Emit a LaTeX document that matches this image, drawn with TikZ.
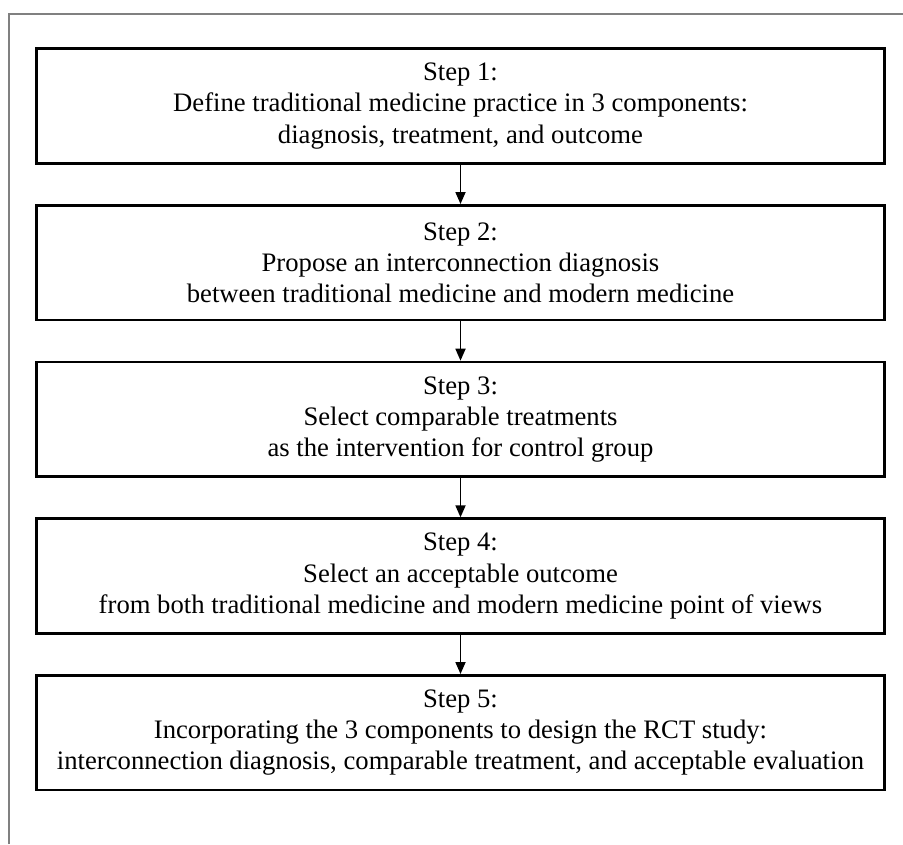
\documentclass[tikz,border=0pt]{standalone}
\usepackage{fontspec}
\setmainfont{Liberation Serif}
\usetikzlibrary{positioning, arrows.meta}
\tikzset{
	flowchart/.cd,
	box/.style = {
		draw,
		line width = 2pt,
		minimum width = 636pt,
		minimum height = 86pt,
		inner sep = 0pt,
		align = center,
		font = \fontsize{20pt}{23.3pt}\selectfont
	},
	link/.style = {
		line width = 1.3pt,
		-{Triangle[length = 9pt, width = 7.5pt]}
	},
}

\begin{document}
\begin{tikzpicture}[
		x = 0.75pt, y = -0.75pt,
		frame/.style = {
			draw = gray,
			line width = 1.5pt
		}]
		\useasboundingbox (0, 0) rectangle (903, 844);
		\draw[frame] (9, 844) -- (9, 14) -- (903, 14);
		\node[flowchart/box] (step1) at (460.5, 106) {Step 1:\\Define traditional medicine practice in 3 components:\\diagnosis, treatment, and outcome};
		\node[flowchart/box, below = 29.5pt of step1] (step2) {Step 2:\\Propose an interconnection diagnosis\\between traditional medicine and modern medicine};
		\node[flowchart/box, below = 29.5pt of step2] (step3) {Step 3:\\Select comparable treatments\\as the intervention for control group};
		\node[flowchart/box, below = 29.5pt of step3] (step4) {Step 4:\\Select an acceptable outcome\\from both traditional medicine and modern medicine point of views};
		\node[flowchart/box, below = 29.5pt of step4] (step5) {Step 5:\\Incorporating the 3 components to design the RCT study:\\interconnection diagnosis, comparable treatment, and acceptable evaluation};
		\foreach \from/\to in {step1/step2, step2/step3, step3/step4, step4/step5}
			\draw[flowchart/link] (\from) -- (\to);
	\end{tikzpicture}
\end{document}
